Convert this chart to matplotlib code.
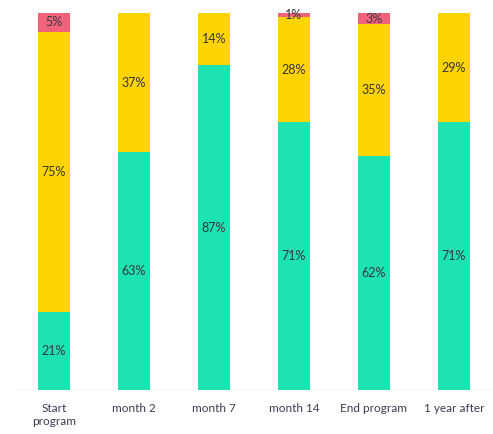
import matplotlib
matplotlib.use('Agg')
import matplotlib.pyplot as plt
import numpy as np

CATEGORIES = ['Start\nprogram', 'month 2', 'month 7', 'month 14', 'End program', '1 year after']
GREEN = [21, 63, 87, 71, 62, 71]
YELLOW = [75, 37, 14, 28, 35, 29]
RED = [5, 0, 0, 1, 3, 0]

COLORS = ('#1de3b1', '#ffd400', '#f2637b')

plt.rcParams['font.family'] = ['Lato', 'DejaVu Sans']

fig = plt.figure(figsize=(4.93, 4.34), dpi=100)
ax = fig.add_axes([13 / 493, 44 / 434, 480 / 493, 377 / 434])

series = np.array([GREEN, YELLOW, RED], dtype=float)
shares = series / series.sum(axis=0)
xs = np.arange(len(CATEGORIES))
bottom = np.zeros(len(CATEGORIES))
for raw, share, color in zip(series, shares, COLORS):
  ax.bar(xs, share, 0.4, bottom=bottom, color=color, lw=0, zorder=2)
  for x, value, b, h in zip(xs, raw, bottom, share):
    if value > 0:
      ax.text(x, b + h / 2, f'{int(value)}%', ha='center', va='center',
              fontsize=9, color='#363640', zorder=3)
  bottom += share

ax.axhline(0, color='#dddddd', lw=1, zorder=1)
ax.set_xlim(-0.5125, 5.4875)
ax.set_ylim(0, 1)
ax.set_yticks([])
ax.set_xticks(xs)
ax.set_xticklabels(CATEGORIES, fontsize=8.5, color='#3a3c52', linespacing=1.3)
ax.tick_params(axis='x', length=0, pad=9)
for spine in ax.spines.values():
  spine.set_visible(False)

fig.savefig('out.png', dpi=100)
